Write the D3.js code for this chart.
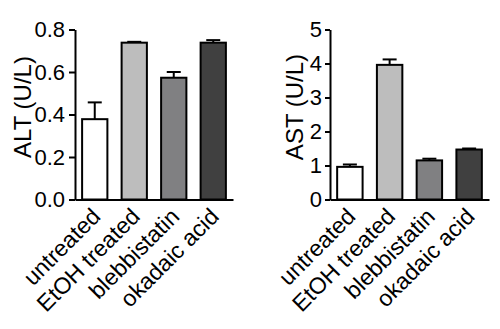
<!DOCTYPE html>
<html>
<head>
<meta charset="utf-8">
<script src="https://cdn.jsdelivr.net/npm/d3@7"></script>
<style>
  html, body { margin: 0; padding: 0; background: #fff; }
  svg { display: block; }
  text { font-family: "Liberation Sans", Arial, Helvetica, sans-serif; fill: #000; }
</style>
</head>
<body>
<svg id="chart" width="500" height="329"></svg>
<script>
const categories = ["untreated", "EtOH treated", "blebbistatin", "okadaic acid"];
const fills = ["#ffffff", "#bdbdbd", "#808082", "#404040"];
const altValues = [0.378, 0.738, 0.573, 0.738];
const altErrors = [0.079, 0.004, 0.027, 0.012];
const astValues = [0.96, 3.96, 1.15, 1.47];
const astErrors = [0.07, 0.16, 0.05, 0.03];
const altTicks = [0, 0.2, 0.4, 0.6, 0.8];
const astTicks = [0, 1, 2, 3, 4, 5];

const svg = d3.select("#chart");

function panel(cfg) {
  const g = svg.append("g");
  const x = d3.scaleBand().domain(categories).range(cfg.xRange)
    .paddingInner(0.36).paddingOuter(0.18);
  const y = d3.scaleLinear().domain(cfg.yDomain).range([199.5, 29.5]);

  g.selectAll("rect.bar").data(categories).enter().append("rect")
    .attr("class", "bar")
    .attr("x", d => x(d))
    .attr("width", x.bandwidth())
    .attr("y", (d, i) => y(cfg.values[i]))
    .attr("height", (d, i) => y(0) - y(cfg.values[i]))
    .attr("fill", (d, i) => fills[i])
    .attr("stroke", "#000").attr("stroke-width", 2);

  const eb = g.selectAll("g.err").data(categories).enter().append("g").attr("class", "err");
  eb.append("line")
    .attr("x1", d => x(d) + x.bandwidth() / 2)
    .attr("x2", d => x(d) + x.bandwidth() / 2)
    .attr("y1", (d, i) => y(cfg.values[i]))
    .attr("y2", (d, i) => y(cfg.values[i] + cfg.errors[i]))
    .attr("stroke", "#000").attr("stroke-width", 2);
  eb.append("line")
    .attr("x1", d => x(d) + x.bandwidth() / 2 - 7)
    .attr("x2", d => x(d) + x.bandwidth() / 2 + 7)
    .attr("y1", (d, i) => y(cfg.values[i] + cfg.errors[i]))
    .attr("y2", (d, i) => y(cfg.values[i] + cfg.errors[i]))
    .attr("stroke", "#000").attr("stroke-width", 2);

  const ya = g.append("g").attr("transform", `translate(${cfg.xRange[0]},0)`)
    .call(d3.axisLeft(y).tickValues(cfg.ticks).tickFormat(cfg.fmt)
      .tickSize(cfg.tickSize).tickSizeOuter(0).tickPadding(cfg.tickPad));
  ya.select(".domain").attr("stroke", "#000").attr("stroke-width", 2);
  ya.selectAll(".tick line").attr("stroke", "#000").attr("stroke-width", 2);
  ya.selectAll(".tick text").attr("font-size", 22).attr("font-family", null);

  const xa = g.append("g").attr("transform", `translate(0,${y(0)})`)
    .call(d3.axisBottom(x).tickSize(0).tickSizeOuter(0));
  xa.select(".domain").attr("stroke", "#000").attr("stroke-width", 2);
  xa.selectAll(".tick text")
    .attr("font-size", 23).attr("font-family", null)
    .attr("text-anchor", "end")
    .attr("transform", "translate(7,18.5) rotate(-45)")
    .attr("dy", 0).attr("y", 0).attr("x", 0);

  g.append("text")
    .attr("transform", `translate(${cfg.titleX},107) rotate(-90)`)
    .attr("text-anchor", "middle")
    .attr("font-size", 24)
    .text(cfg.title);
}

panel({
  xRange: [75, 233], yDomain: [0, 0.8], values: altValues, errors: altErrors,
  ticks: altTicks, fmt: d3.format(".1f"), title: "ALT (U/L)", titleX: 31,
  tickSize: 6, tickPad: 4
});
panel({
  xRange: [330, 489], yDomain: [0, 5], values: astValues, errors: astErrors,
  ticks: astTicks, fmt: d3.format("d"), title: "AST (U/L)", titleX: 303,
  tickSize: 5, tickPad: 3
});
</script>
</body>
</html>
